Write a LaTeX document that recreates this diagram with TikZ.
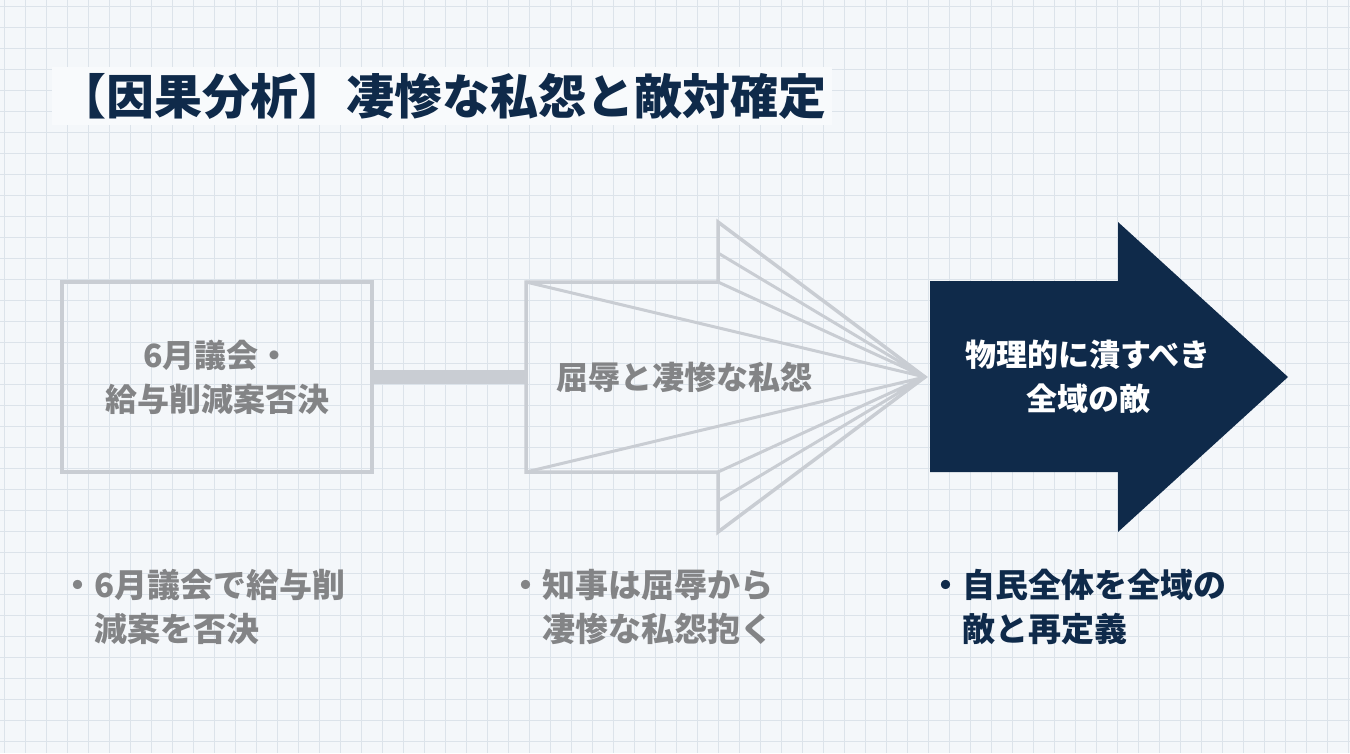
\documentclass[tikz,border=0pt]{standalone}
\usepackage{fontspec}
\setmainfont{Noto Sans CJK JP}
\newfontfamily\jp{Noto Sans CJK JP}
\begin{document}
\begin{tikzpicture}[x=1pt,y=-1pt,
  lite/.style={draw=boxgray,line width=3.5pt,line join=miter},
  gtxt/.style={text=txtgray,font=\jp\bfseries\fontsize{32}{44}\selectfont,align=center},
  btxt/.style={font=\jp\bfseries\fontsize{33}{44}\selectfont,align=left,anchor=north west}]
\definecolor{bg}{HTML}{F4F7FA}
\definecolor{grid}{HTML}{DCE3EA}
\definecolor{boxgray}{HTML}{C9CDD3}
\definecolor{txtgray}{HTML}{838486}
\definecolor{navy}{HTML}{0F2A4A}
\useasboundingbox (0,0) rectangle (1350,753);
\fill[bg] (0,0) rectangle (1350,753);
\foreach \i in {0,...,64} {\draw[grid,line width=0.8pt] (\i*21+4,0) -- (\i*21+4,753);}
\foreach \j in {0,...,36} {\draw[grid,line width=0.8pt] (0,\j*21+6) -- (1350,\j*21+6);}
\node[anchor=west,fill=bg!60!white,inner sep=6pt,text=navy,font=\jp\bfseries\fontsize{48}{52}\selectfont] (title) at (52,96) {【因果分析】凄惨な私怨と敵対確定};
% box 1
\node[lite,minimum width=310pt,minimum height=190pt,gtxt] (b1) at (217,377) {6月議会・\\給与削減案否決};
% middle arrow
\coordinate (tip) at (925,377);
\draw[lite] (526,282) -- (718,282) -- (718,222) -- (tip) -- (718,532) -- (718,472) -- (526,472) -- cycle;
\draw[boxgray,line width=3pt] (526,282) -- (tip) (718,253) -- (tip) (718,282) -- (tip)
  (526,472) -- (tip) (718,501) -- (tip) (718,472) -- (tip);
\node[gtxt] (b2) at (684,377) {屈辱と凄惨な私怨};
\draw[boxgray,line width=14pt] (b1.east) -- (526,377);
% dark arrow
\fill[navy] (930,281) -- (1118,281) -- (1118,222) -- (1288,377) -- (1118,532) -- (1118,472) -- (930,472) -- cycle;
\node[text=white,font=\jp\bfseries\fontsize{31}{44}\selectfont,align=center] (b3) at (1088,377) {物理的に潰すべき\\全域の敵};
% bullets
\node[btxt,text=txtgray] (t1) at (58,566) {・6月議会で給与削\\\hspace*{1em}減案を否決};
\node[btxt,text=txtgray] (t2) at (506,566) {・知事は屈辱から\\\hspace*{1em}凄惨な私怨抱く};
\node[btxt,text=navy] (t3) at (926,566) {・自民全体を全域の\\\hspace*{1em}敵と再定義};
\end{tikzpicture}
\end{document}
